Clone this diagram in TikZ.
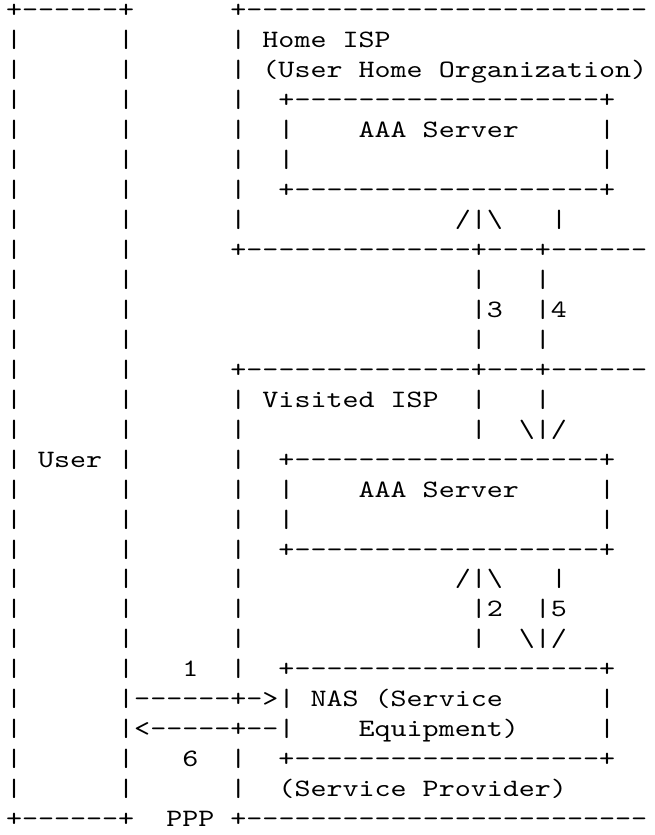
\documentclass[tikz,border=0pt]{standalone}
\usepackage{fontspec}
\usepackage{graphicx}
\newfontfamily\asciifont{lmmono10-regular}[Extension=.otf,WordSpace={1,0,0}]
\newcommand\AscRow[1]{\scalebox{1.2213}[1]{#1}}
\begingroup
\obeyspaces%
\gdef\AscA{+------+      +-------------------------}%
\gdef\AscB{|      |      | Home ISP}%
\gdef\AscC{|      |      | (User Home Organization)}%
\gdef\AscD{|      |      |  +-------------------+}%
\gdef\AscE{|      |      |  |    AAA Server     |}%
\gdef\AscF{|      |      |  |                   |}%
\gdef\AscH{|      |      |             /|\textbackslash   |}%
\gdef\AscI{|      |      +--------------+---+------}%
\gdef\AscJ{|      |                     |   |}%
\gdef\AscK{|      |                     |3  |4}%
\gdef\AscN{|      |      | Visited ISP  |   |}%
\gdef\AscO{|      |      |              |  \textbackslash|/}%
\gdef\AscP{| User |      |  +-------------------+}%
\gdef\AscU{|      |      |              |2  |5}%
\gdef\AscW{|      |   1  |  +-------------------+}%
\gdef\AscX{|      |------+->| NAS (Service      |}%
\gdef\AscY{|      |<-----+--|    Equipment)     |}%
\gdef\AscZ{|      |   6  |  +-------------------+}%
\gdef\AscAA{|      |      |  (Service Provider)}%
\gdef\AscAB{+------+  PPP +-------------------------}%
\endgroup
\tikzset{ascrow/.style={anchor=base west,inner sep=0pt,outer sep=0pt,font=\asciifont\fontsize{25}{30}\selectfont,text=black}}
\begin{document}
\begin{tikzpicture}[x=1pt,y=1pt]
\fill[white] (0,0) rectangle (654,-835);
\clip (0,0) rectangle (654,-835);
\foreach \k/\m in {1/A,2/B,3/C,4/D,5/E,6/F,7/D,8/H,9/I,10/J,11/K,12/J,13/I,14/N,15/O,16/P,17/E,18/F,19/D,20/H,21/U,22/O,23/W,24/X,25/Y,26/Z,27/AA,28/AB}
  \node[ascrow] (line\k) at (6,{-17.9-29.95*(\k-1)}) {\AscRow{\csname Asc\m\endcsname}};
\end{tikzpicture}
\end{document}
